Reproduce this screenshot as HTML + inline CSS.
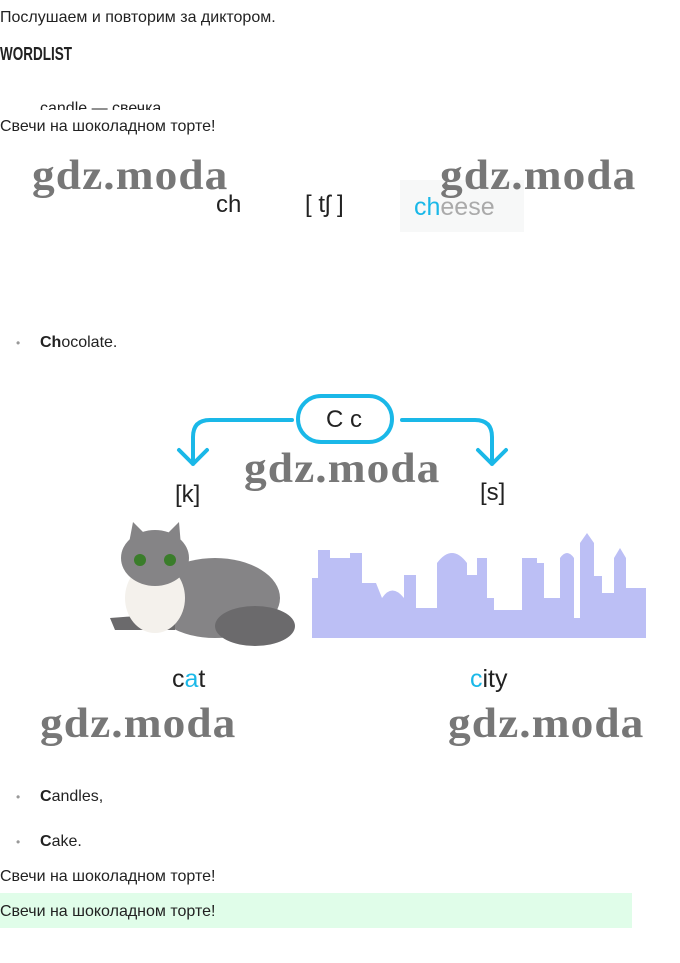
<!DOCTYPE html>
<html><head><meta charset="utf-8"><style>
body{margin:0;width:680px;height:963px;background:#fff;font-family:"Liberation Sans",sans-serif;color:#222;position:relative;overflow:hidden}
.a{position:absolute;white-space:nowrap}
.t{font-size:16px}
.wm{font-family:"Liberation Serif",serif;font-size:42px;font-weight:bold;color:#777;letter-spacing:1px;transform:scaleX(1.08);transform-origin:left}
.blt{font-size:16px}
.blt:before{content:"•";color:#999;position:absolute;left:-24px;font-size:12px;top:2px}
.c{color:#1ab8e8}
</style></head><body>
<div class="a t" style="left:0;top:9px">Послушаем и повторим за диктором.</div>
<div class="a" style="left:0;top:44px;font-size:18px;font-weight:bold;transform:scaleX(0.75);transform-origin:left">WORDLIST</div>
<div class="a t" style="left:40px;top:100px;height:10px;overflow:hidden">candle — свечка</div>
<div class="a t" style="left:0;top:118px">Свечи на шоколадном торте!</div>
<div class="a" style="left:216px;top:191px;font-size:24px">ch</div>
<div class="a" style="left:305px;top:191px;font-size:24px">[ tʃ ]</div>
<div class="a" style="left:400px;top:180px;width:124px;height:52px;background:#f7f8f8"></div>
<div class="a" style="left:414px;top:193px;font-size:25px;color:#aaa"><span class="c">ch</span>eese</div>
<div class="a wm" style="left:32px;top:152px">gdz.moda</div>
<div class="a wm" style="left:440px;top:152px">gdz.moda</div>
<div class="a blt" style="left:40px;top:334px"><b>Ch</b>ocolate.</div>
<svg class="a" style="left:0;top:380px" width="680" height="100">
<g fill="none" stroke="#1ab8e8" stroke-width="4" stroke-linecap="round" stroke-linejoin="round">
<rect x="298" y="16" width="94" height="46" rx="23"/>
<path d="M292 40 H210 Q193 40 193 57 V84 M179 70 L193 84 L207 70"/>
<path d="M402 40 H475 Q492 40 492 57 V84 M478 70 L492 84 L506 70"/>
</g></svg>
<div class="a" style="left:326px;top:406px;font-size:24px">C c</div>
<div class="a wm" style="left:244px;top:445px">gdz.moda</div>
<div class="a" style="left:175px;top:481px;font-size:24px">[k]</div>
<div class="a" style="left:480px;top:479px;font-size:24px">[s]</div>
<svg class="a" style="left:95px;top:518px" width="205" height="132">
<ellipse cx="120" cy="80" rx="65" ry="40" fill="#858486"/>
<ellipse cx="160" cy="108" rx="40" ry="20" fill="#6b6a6c"/>
<path d="M15 100 L80 95 L80 112 L20 112Z" fill="#6b6a6c"/>
<ellipse cx="60" cy="80" rx="30" ry="35" fill="#f4f1ec"/>
<ellipse cx="60" cy="40" rx="34" ry="28" fill="#858486"/>
<path d="M34 25 L38 4 L52 18Z M70 18 L84 4 L86 28Z" fill="#858486"/>
<circle cx="45" cy="42" r="6" fill="#3a7d2a"/><circle cx="75" cy="42" r="6" fill="#3a7d2a"/>
</svg>
<svg class="a" style="left:312px;top:528px" width="334" height="110">
<path fill="#bcbff5" d="M0 50 H6 V22 H18 V30 H38 V25 H50 V55 H64 L70 70 Q80 55 92 70 V47 H104 V80 H125 V35 Q140 15 155 35 V47 H165 V30 H175 V70 H182 V82 H210 V30 H225 V35 H232 V70 L248 70 V30 Q255 20 262 30 V90 H268 V15 L275 5 L282 15 V48 H290 V65 H302 V30 L308 20 L314 30 V60 H334 V110 H0Z"/>
</svg>
<div class="a" style="left:172px;top:665px;font-size:25px">c<span class="c">a</span>t</div>
<div class="a" style="left:470px;top:665px;font-size:25px"><span class="c">c</span>ity</div>
<div class="a wm" style="left:40px;top:700px">gdz.moda</div>
<div class="a wm" style="left:448px;top:700px">gdz.moda</div>
<div class="a blt" style="left:40px;top:788px"><b>C</b>andles,</div>
<div class="a blt" style="left:40px;top:833px"><b>C</b>ake.</div>
<div class="a t" style="left:0;top:868px">Свечи на шоколадном торте!</div>
<div class="a" style="left:0;top:893px;width:632px;height:35px;background:#e0fde9"></div>
<div class="a t" style="left:0;top:903px">Свечи на шоколадном торте!</div>
</body></html>
